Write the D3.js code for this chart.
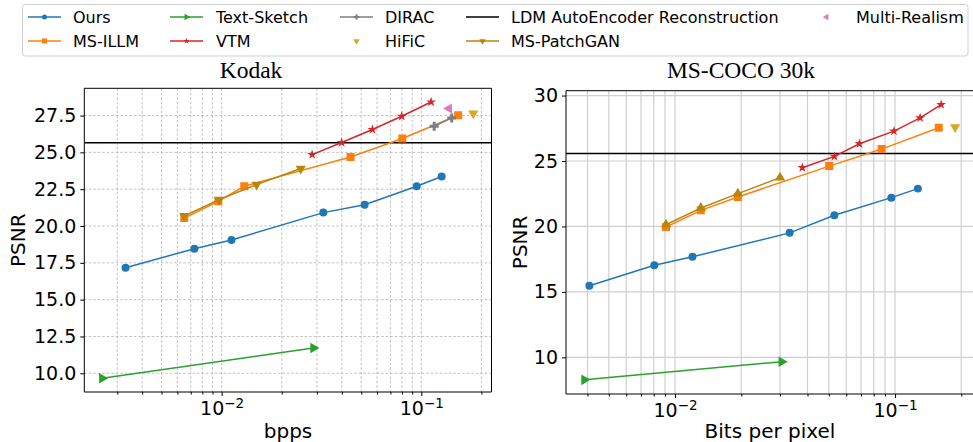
<!DOCTYPE html>
<html>
<head>
<meta charset="utf-8">
<script src="https://cdn.jsdelivr.net/npm/d3@7"></script>
<style>
  body { margin: 0; background: #fff; }
  svg { display: block; }
  text { font-family: "DejaVu Sans", sans-serif; fill: #000; }
</style>
</head>
<body>
<div id="chart"></div>
<script>
// ---- Kodak (left panel) ----
var kodakOursBpp = [0.0033, 0.0073, 0.0112, 0.0323, 0.052, 0.0948, 0.1265];
var kodakOursPsnr = [17.17, 18.46, 19.05, 20.91, 21.45, 22.70, 23.36];
var kodakSketchBpp = [0.00252, 0.0288];
var kodakSketchPsnr = [9.67, 11.71];
var kodakIllmBpp = [0.0065, 0.00962, 0.01298, 0.0442, 0.0803, 0.153];
var kodakIllmPsnr = [20.54, 21.68, 22.70, 24.69, 25.94, 27.52];
var kodakPatchBpp = [0.0065, 0.0097, 0.01496, 0.0249];
var kodakPatchPsnr = [20.68, 21.79, 22.81, 23.90];
var kodakVtmBpp = [0.0284, 0.0399, 0.0569, 0.0798, 0.112];
var kodakVtmPsnr = [24.85, 25.67, 26.55, 27.45, 28.42];
var kodakDiracBpp = [0.116, 0.142];
var kodakDiracPsnr = [26.77, 27.34];
var kodakMultiBpp = [0.1377];
var kodakMultiPsnr = [27.98];
var kodakHificBpp = [0.182];
var kodakHificPsnr = [27.64];
var kodakLdm = 25.65;

// ---- MS-COCO 30k (right panel) ----
var cocoOursBpp = [0.00408, 0.00805, 0.012, 0.0332, 0.053, 0.0962, 0.127];
var cocoOursPsnr = [15.47, 17.04, 17.68, 19.51, 20.85, 22.20, 22.89];
var cocoSketchBpp = [0.00387, 0.0305];
var cocoSketchPsnr = [8.28, 9.67];
var cocoIllmBpp = [0.0091, 0.0131, 0.0193, 0.0502, 0.0869, 0.158];
var cocoIllmPsnr = [19.96, 21.23, 22.25, 24.61, 25.91, 27.54];
var cocoPatchBpp = [0.0091, 0.0131, 0.0193, 0.030];
var cocoPatchPsnr = [20.14, 21.41, 22.51, 23.73];
var cocoVtmBpp = [0.0379, 0.053, 0.0689, 0.0989, 0.130, 0.162];
var cocoVtmPsnr = [24.49, 25.35, 26.32, 27.28, 28.30, 29.31];
var cocoHificBpp = [0.1875];
var cocoHificPsnr = [27.58];
var cocoLdm = 25.57;

var kodakYTicks = [10, 12.5, 15, 17.5, 20, 22.5, 25, 27.5];
var cocoYTicks = [10, 15, 20, 25, 30];
var xMajorTicks = [0.01, 0.1];

var legendNames = ['Ours', 'MS-ILLM', 'Text-Sketch', 'VTM', 'DIRAC', 'HiFiC',
    'LDM AutoEncoder Reconstruction', 'MS-PatchGAN', 'Multi-Realism'];

var styles = {
    'Ours':          {color: '#1f77b4', shape: 'circle',   rot: 0,   size: 50, line: true},
    'Text-Sketch':   {color: '#2ca02c', shape: 'triangle', rot: 90,  size: 48, line: true},
    'DIRAC':         {color: '#7f7f7f', shape: 'cross',    rot: 0,   size: 45, line: true},
    'MS-ILLM':       {color: '#ff7f0e', shape: 'square',   rot: 0,   size: 64, line: true},
    'VTM':           {color: '#d62728', shape: 'star',     rot: 0,   size: 30, line: true},
    'HiFiC':         {color: '#daa520', shape: 'triangle', rot: 180, size: 45, line: false},
    'MS-PatchGAN':   {color: '#b8860b', shape: 'triangle', rot: 180, size: 45, line: true},
    'Multi-Realism': {color: '#e377c2', shape: 'triangle', rot: -90, size: 45, line: false}
};

var symbolTypes = {
    circle: d3.symbolCircle, square: d3.symbolSquare, triangle: d3.symbolTriangle,
    star: d3.symbolStar, cross: d3.symbolCross
};

var width = 973;
var height = 442;

var svg = d3.select('#chart')
    .append('svg')
    .attr('width', width)
    .attr('height', height);

function zip(xs, ys) {
    return xs.map(function (x, i) {return {x: x, y: ys[i]};});
}

function drawPanel(cfg) {
    var x = d3.scaleLog().domain(cfg.xDomain).range([cfg.left, cfg.right]);
    var y = d3.scaleLinear().domain(cfg.yDomain).range([cfg.bottom, cfg.top]);

    var clipId = 'clip-' + cfg.id;
    svg.append('clipPath').attr('id', clipId)
        .append('rect')
        .attr('x', cfg.left).attr('y', cfg.top)
        .attr('width', cfg.right - cfg.left).attr('height', cfg.bottom - cfg.top);

    var g = svg.append('g');
    var plot = g.append('g').attr('clip-path', 'url(#' + clipId + ')');

    var allX = x.ticks().filter(function (d) {
        return d >= cfg.xDomain[0] && d <= cfg.xDomain[1];
    });

    // grid
    plot.selectAll('.vgrid')
        .data(allX)
        .enter()
        .append('line')
        .attr('x1', function (d) {return x(d);})
        .attr('x2', function (d) {return x(d);})
        .attr('y1', cfg.top).attr('y2', cfg.bottom)
        .style('stroke', cfg.gridColor)
        .style('stroke-width', cfg.gridWidth)
        .style('stroke-dasharray', cfg.gridDash);

    plot.selectAll('.hgrid')
        .data(cfg.yTicks)
        .enter()
        .append('line')
        .attr('x1', cfg.left).attr('x2', cfg.right)
        .attr('y1', function (d) {return y(d);})
        .attr('y2', function (d) {return y(d);})
        .style('stroke', cfg.gridColor)
        .style('stroke-width', cfg.gridWidth)
        .style('stroke-dasharray', cfg.gridDash);

    // LDM reference line
    plot.append('line')
        .attr('x1', cfg.left).attr('x2', cfg.right)
        .attr('y1', y(cfg.ldm)).attr('y2', y(cfg.ldm))
        .style('stroke', '#000')
        .style('stroke-width', 1.6);

    var line = d3.line()
        .x(function (d) {return x(d.x);})
        .y(function (d) {return y(d.y);});

    cfg.series.forEach(function (s) {
        var st = styles[s.name];
        var rot = s.rot !== undefined ? s.rot : st.rot;
        var pts = zip(s.x, s.y);
        if (st.line && pts.length > 1) {
            plot.append('path')
                .datum(pts)
                .attr('d', line)
                .style('fill', 'none')
                .style('stroke', st.color)
                .style('stroke-width', 1.5);
        }
        plot.selectAll(null)
            .data(pts)
            .enter()
            .append('path')
            .attr('d', d3.symbol().type(symbolTypes[st.shape]).size(st.size))
            .attr('transform', function (d) {
                return 'translate(' + x(d.x) + ',' + y(d.y) + ') rotate(' + rot + ')';
            })
            .style('fill', st.color);
    });

    // axes
    var yAxis = g.append('g')
        .attr('transform', 'translate(' + cfg.left + ',0)')
        .call(d3.axisLeft(y).tickValues(cfg.yTicks).tickSize(4).tickPadding(4)
            .tickFormat(cfg.yFormat));
    yAxis.select('.domain').remove();
    yAxis.selectAll('text').style('font-size', '19px').style('font-family', '"DejaVu Sans", sans-serif');

    var xMinor = g.append('g')
        .attr('transform', 'translate(0,' + cfg.bottom + ')')
        .call(d3.axisBottom(x).tickValues(allX.filter(function (d) {
            return xMajorTicks.indexOf(d) < 0;
        })).tickSize(2.5).tickFormat(''));
    xMinor.select('.domain').remove();

    var xAxis = g.append('g')
        .attr('transform', 'translate(0,' + cfg.bottom + ')')
        .call(d3.axisBottom(x).tickValues(xMajorTicks).tickSize(4).tickPadding(5)
            .tickFormat(''));
    xAxis.select('.domain').remove();
    xAxis.selectAll('.tick').append('text')
        .attr('y', 23)
        .attr('text-anchor', 'middle')
        .style('font-size', '19px')
        .each(function (d) {
            var t = d3.select(this);
            t.append('tspan').text('10');
            t.append('tspan')
                .attr('dy', '-0.5em')
                .style('font-size', '13.5px')
                .text('\u2212' + Math.round(-Math.log10(d)));
        });

    g.selectAll('.tick line').style('stroke', '#000');

    // frame
    var frame = g.append('g').style('stroke', '#000').style('stroke-width', 1);
    frame.append('line').attr('x1', cfg.left).attr('x2', cfg.left).attr('y1', cfg.top).attr('y2', cfg.bottom);
    frame.append('line').attr('x1', cfg.left).attr('x2', cfg.right).attr('y1', cfg.top).attr('y2', cfg.top);
    frame.append('line').attr('x1', cfg.left).attr('x2', cfg.right).attr('y1', cfg.bottom).attr('y2', cfg.bottom);
    frame.append('line').attr('x1', cfg.right).attr('x2', cfg.right).attr('y1', cfg.top).attr('y2', cfg.bottom);

    // labels
    g.append('text')
        .attr('x', cfg.titleX).attr('y', 78)
        .attr('text-anchor', 'middle')
        .style('font-family', '"Liberation Serif", serif')
        .style('font-size', '23.5px')
        .text(cfg.title);

    g.append('text')
        .attr('x', cfg.xLabelX).attr('y', 438)
        .attr('text-anchor', 'middle')
        .style('font-size', '20px')
        .text(cfg.xLabel);

    g.append('text')
        .attr('transform', 'translate(' + cfg.yLabelX + ',' + ((cfg.top + cfg.bottom) / 2) + ') rotate(-90)')
        .attr('text-anchor', 'middle')
        .style('font-size', '20px')
        .text('PSNR');
}

drawPanel({
    id: 'kodak', left: 84.3, right: 491.5, top: 88.3, bottom: 392,
    xDomain: [0.002051, 0.2247], yDomain: [8.73, 29.35],
    yTicks: kodakYTicks, yFormat: d3.format('.1f'),
    gridColor: '#b0b0b0', gridWidth: 0.8, gridDash: '2.5,2',
    ldm: kodakLdm, title: 'Kodak', titleX: 251, xLabel: 'bpps', xLabelX: 288, yLabelX: 25,
    series: [
        {name: 'Ours', x: kodakOursBpp, y: kodakOursPsnr},
        {name: 'Text-Sketch', x: kodakSketchBpp, y: kodakSketchPsnr},
        {name: 'MS-ILLM', x: kodakIllmBpp, y: kodakIllmPsnr},
        {name: 'VTM', x: kodakVtmBpp, y: kodakVtmPsnr},
        {name: 'DIRAC', x: kodakDiracBpp, y: kodakDiracPsnr},
        {name: 'HiFiC', x: kodakHificBpp, y: kodakHificPsnr},
        {name: 'MS-PatchGAN', x: kodakPatchBpp, y: kodakPatchPsnr},
        {name: 'Multi-Realism', x: kodakMultiBpp, y: kodakMultiPsnr}
    ]
});

drawPanel({
    id: 'coco', left: 566, right: 980, top: 90.7, bottom: 394,
    xDomain: [0.003194, 0.2433], yDomain: [7.2, 30.37],
    yTicks: cocoYTicks, yFormat: d3.format('d'),
    gridColor: '#cfcfcf', gridWidth: 1.2, gridDash: null,
    ldm: cocoLdm, title: 'MS-COCO 30k', titleX: 741, xLabel: 'Bits per pixel', xLabelX: 770, yLabelX: 527,
    series: [
        {name: 'Ours', x: cocoOursBpp, y: cocoOursPsnr},
        {name: 'Text-Sketch', x: cocoSketchBpp, y: cocoSketchPsnr},
        {name: 'MS-ILLM', x: cocoIllmBpp, y: cocoIllmPsnr},
        {name: 'VTM', x: cocoVtmBpp, y: cocoVtmPsnr},
        {name: 'HiFiC', x: cocoHificBpp, y: cocoHificPsnr},
        {name: 'MS-PatchGAN', x: cocoPatchBpp, y: cocoPatchPsnr, rot: 0}
    ]
});

// legend
var legendColX = [28, 170, 340, 466, 810];
var legendTextX = [73, 216, 385, 511, 856];
var legendRowY = [17, 41];
var handleLen = 33;

var legend = svg.append('g');
legend.append('rect')
    .attr('x', 22.5).attr('y', 4.5)
    .attr('width', 945.5).attr('height', 51.5)
    .attr('rx', 3)
    .style('fill', '#fff')
    .style('stroke', '#d0d0d0');

var items = legend.selectAll('.legend')
    .data(legendNames)
    .enter()
    .append('g')
    .attr('class', 'legend')
    .attr('transform', function (d, i) {
        var col = Math.floor(i / 2);
        var row = i % 2;
        return 'translate(0,' + legendRowY[row] + ')';
    });

items.each(function (d, i) {
    var col = Math.floor(i / 2);
    var item = d3.select(this);
    var x0 = legendColX[col];
    var st = styles[d];
    if (d === 'LDM AutoEncoder Reconstruction') {
        item.append('line').attr('x1', x0).attr('x2', x0 + handleLen)
            .style('stroke', '#000').style('stroke-width', 1.5);
    } else {
        if (st.line) {
            item.append('line').attr('x1', x0).attr('x2', x0 + handleLen)
                .style('stroke', st.color).style('stroke-width', 1.5);
        }
        item.append('path')
            .attr('d', d3.symbol().type(symbolTypes[st.shape]).size(st.size * 0.4))
            .attr('transform', 'translate(' + (x0 + handleLen / 2) + ',0) rotate(' + st.rot + ')')
            .style('fill', st.color);
    }
    item.append('text')
        .attr('x', legendTextX[col])
        .attr('y', 6)
        .style('font-size', '16px')
        .text(d);
});
</script>
</body>
</html>
